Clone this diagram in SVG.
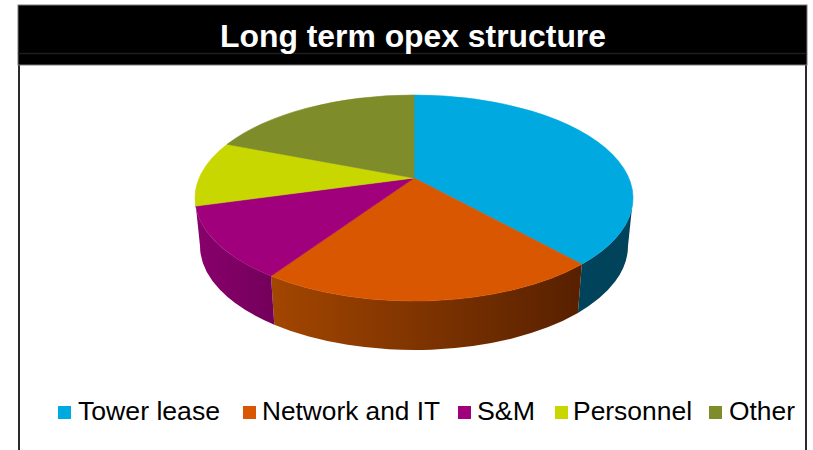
<svg xmlns="http://www.w3.org/2000/svg" width="813" height="450" viewBox="0 0 813 450">
  <style>
    .title { font-family: "Liberation Sans", Arial, sans-serif; font-weight: bold; font-size: 31px; fill: #fff; }
    .legend { font-family: "Liberation Sans", Arial, sans-serif; font-size: 26px; fill: #000; }
    .frame { stroke: #2a2a2a; stroke-width: 2; fill: none; }
    .face { stroke-width: 0.6; stroke-linejoin: round; }
  </style>
  <defs>
    <linearGradient id="gradNetworkSide" gradientUnits="userSpaceOnUse" x1="271" y1="0" x2="582" y2="0">
      <stop offset="0" stop-color="#a34600"/>
      <stop offset="1" stop-color="#572000"/>
    </linearGradient>
    <linearGradient id="gradSMSide" gradientUnits="userSpaceOnUse" x1="195" y1="0" x2="275" y2="0">
      <stop offset="0" stop-color="#88006c"/>
      <stop offset="1" stop-color="#73005a"/>
    </linearGradient>
  </defs>

  <rect width="813" height="450" fill="#fff"/>

  <!-- Frame and title bar -->
  <g id="frame">
    <line class="frame" x1="19" y1="64" x2="19" y2="450"/>
    <line class="frame" x1="806" y1="64" x2="806" y2="450"/>
    <rect x="18" y="5" width="789" height="60" fill="#000" stroke="#7a7a7a" stroke-width="1"/>
    <line x1="18.5" y1="53.5" x2="806.5" y2="53.5" stroke="#1e1e1e" stroke-width="1.5"/>
    <text class="title" x="413" y="47" text-anchor="middle" textLength="386" lengthAdjust="spacingAndGlyphs">Long term opex structure</text>
  </g>

  <!-- Pie: visible side walls -->
  <g id="pie-sides">
    <path d="M581.8,264.2 A219,103 0 0 0 633,198 L628,246 A214,104 0 0 1 577.9,312.9 Z" fill="#00435b"/>
    <path d="M581.8,264.2 A219,103 0 0 1 271,276 L274.3,324.7 A214,104 0 0 0 577.9,312.9 Z" fill="url(#gradNetworkSide)"/>
    <path d="M271,276 A219,103 0 0 1 195,198 L200,246 A214,104 0 0 0 274.3,324.7 Z" fill="url(#gradSMSide)"/>
  </g>

  <!-- Pie: top faces -->
  <g id="slice-tower-lease">
    <path class="face" d="M414,178 L414,95 A219,103 0 0 1 581.8,264.2 Z" fill="#00a9e0" stroke="#00a9e0"/>
  </g>
  <g id="slice-network-it">
    <path class="face" d="M414,178 L581.8,264.2 A219,103 0 0 1 271,276 Z" fill="#d95700" stroke="#d95700"/>
  </g>
  <g id="slice-sm">
    <path class="face" d="M414,178 L271,276 A219,103 0 0 1 195.7,206.1 Z" fill="#a0007b" stroke="#a0007b"/>
  </g>
  <g id="slice-personnel">
    <path class="face" d="M414,178 L195.7,206.1 A219,103 0 0 1 227.1,144.3 Z" fill="#c8d700" stroke="#c8d700"/>
  </g>
  <g id="slice-other">
    <path class="face" d="M414,178 L227.1,144.3 A219,103 0 0 1 414,95 Z" fill="#7e8c29" stroke="#7e8c29"/>
  </g>

  <!-- Legend -->
  <g id="legend">
    <g id="legend-tower-lease">
      <rect x="58" y="406" width="13" height="13" fill="#00a9e0"/>
      <text class="legend" x="78" y="420" textLength="142" lengthAdjust="spacingAndGlyphs">Tower lease</text>
    </g>
    <g id="legend-network-it">
      <rect x="243" y="406" width="13" height="13" fill="#d95700"/>
      <text class="legend" x="262" y="420" textLength="178" lengthAdjust="spacingAndGlyphs">Network and IT</text>
    </g>
    <g id="legend-sm">
      <rect x="458" y="406" width="13" height="13" fill="#a0007b"/>
      <text class="legend" x="477" y="420" textLength="58" lengthAdjust="spacingAndGlyphs">S&amp;M</text>
    </g>
    <g id="legend-personnel">
      <rect x="555" y="406" width="13" height="13" fill="#c8d700"/>
      <text class="legend" x="573" y="420" textLength="119" lengthAdjust="spacingAndGlyphs">Personnel</text>
    </g>
    <g id="legend-other">
      <rect x="709" y="406" width="13" height="13" fill="#7e8c29"/>
      <text class="legend" x="729" y="420" textLength="66" lengthAdjust="spacingAndGlyphs">Other</text>
    </g>
  </g>
</svg>
